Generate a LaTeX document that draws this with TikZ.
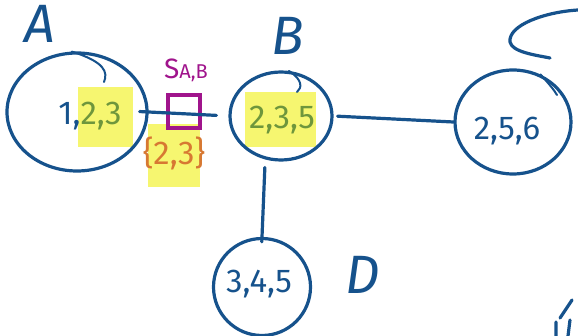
\documentclass[tikz,border=0pt]{standalone}
\usepackage{fontspec}
\setmainfont{Fira Sans}
\usetikzlibrary{shapes.geometric}
\definecolor{inkblue}{RGB}{22,82,140}
\definecolor{inkgreen}{RGB}{110,150,60}
\definecolor{hilite}{RGB}{246,246,112}
\definecolor{inkmag}{RGB}{160,20,140}
\definecolor{inkorange}{RGB}{215,120,50}
\tikzset{
  ink/.style={draw=inkblue, line width=3.2pt, line cap=round, line join=round},
  bubble/.style={ellipse, ink, inner sep=0pt},
  hl/.style={fill=hilite, draw=none, inner sep=0pt},
  numtxt/.style={font=\fontsize{33}{35}\selectfont, text=inkblue},
  bigletter/.style={font=\fontsize{54}{56}\selectfont\itshape, text=inkblue},
}
\begin{document}
\begin{tikzpicture}[x=1pt,y=-1pt]
\useasboundingbox (0,0) rectangle (578,336);
% highlights
\node[hl, minimum width=55, minimum height=60] (hlA) at (105.5,117.5) {};
\node[hl, minimum width=52, minimum height=63] (hlS) at (174,155.5) {};
\node[hl, minimum width=71, minimum height=55] (hlB) at (280.5,119.5) {};
% bubbles
\node[bubble, minimum width=140, minimum height=118] (A) at (77,112) {};
\node[bubble, minimum width=102, minimum height=88] (B) at (281,116) {};
\node[bubble, minimum width=116, minimum height=104] (C) at (513,122) {};
\node[bubble, minimum width=97, minimum height=97] (D) at (262,287) {};
% pen-start curls
\draw[ink, line width=2pt] (A.95) .. controls (105,62) and (108,72) .. (104,82);
\draw[ink, line width=2pt] (B.80) .. controls (303,80) and (302,88) .. (297,92);
\draw[ink, line width=2pt] (C.60) .. controls (550,85) and (554,90) .. (557,95);
% labels in bubbles
\node[numtxt] (tA) at (90,116) {1,\textcolor{inkgreen}{2,3}};
\node[numtxt, text=inkgreen] (tB) at (282,120) {2,3,5};
\node[numtxt] (tC) at (507,131) {2,5,6};
\node[numtxt] (tD) at (259,284) {3,4,5};
% letters
\node[bigletter] (lA) at (40,24) {A};
\node[bigletter] (lB) at (288,36) {B};
\node[bigletter] (lD) at (363,275) {D};
% partial C and scribble at right edge
\coordinate (c0) at (578,10);
\coordinate (c1) at (550,58);
\draw[ink] (c0) .. controls (545,12) and (508,25) .. (510,42) .. controls (512,52) and (535,55) .. (c1);
\coordinate (v0) at (572,300);
\draw[ink] (v0) -- (560,318) (556,322) -- (556,336) (570,320) -- (568,336);
% sepset box
\node[draw=inkmag, line width=3.2pt, minimum width=32, minimum height=33, inner sep=0pt] (S) at (184,111.5) {};
\node[font=\fontsize{28}{30}\selectfont, text=inkmag, inner sep=0pt] (Slab) at (186,70) {S{\fontsize{20}{22}\selectfont A,B}};
\node[numtxt, text=inkorange] (Sset) at (174,153) {\{2,3\}};
% connectors
\draw[ink, shorten <=-9pt, shorten >=12pt] (A.east) -- (B.west);
\draw[ink, shorten <=4pt] (B.east) -- (C.west);
\draw[ink, shorten <=8pt, shorten >=-5pt] (B.250) -- (D.north);
\end{tikzpicture}
\end{document}
